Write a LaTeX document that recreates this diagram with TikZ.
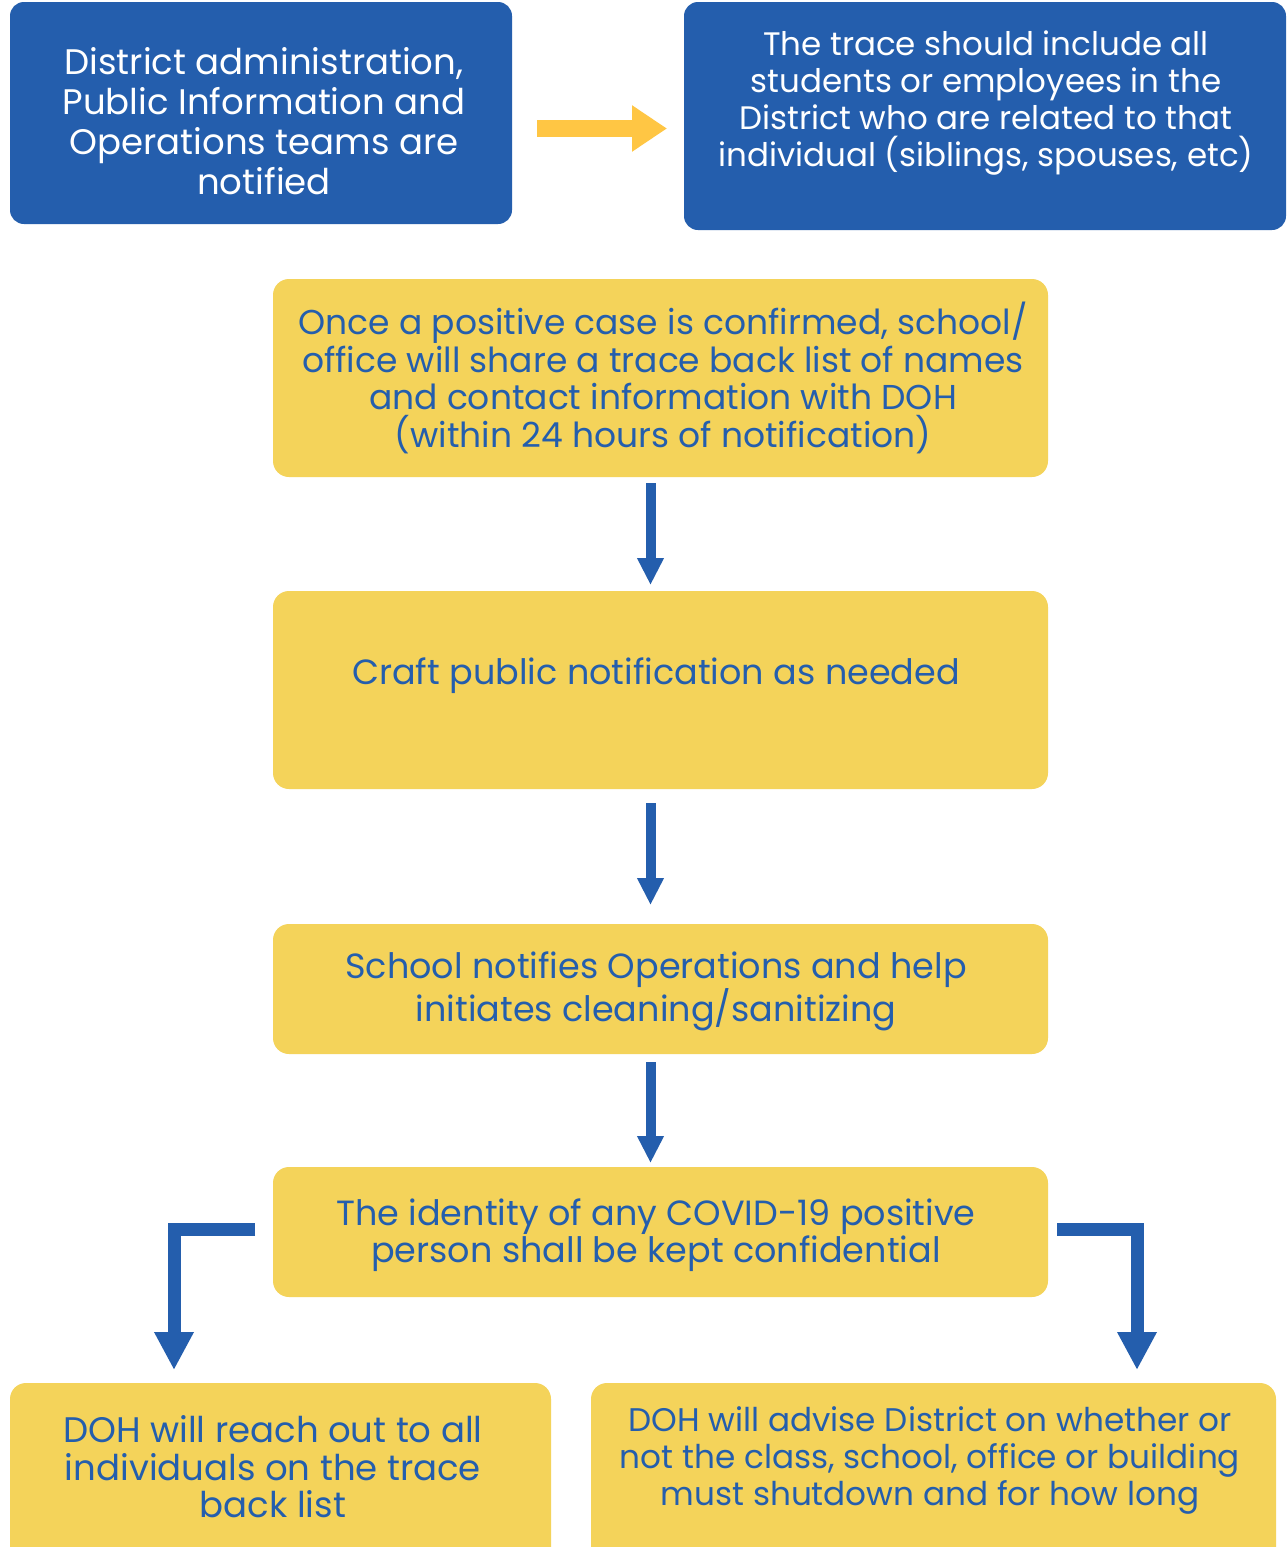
\documentclass[tikz,border=0pt]{standalone}
\usepackage{fontspec}
\setmainfont{Poppins}
\usetikzlibrary{arrows.meta}
\definecolor{dblue}{RGB}{36,94,173}
\definecolor{pyellow}{RGB}{244,211,90}
\definecolor{ayellow}{RGB}{255,198,68}
\newcommand{\fs}[2]{\fontsize{#1}{#2}\selectfont}
\begin{document}
\begin{tikzpicture}[x=1pt,y=-1pt,
  bluebox/.style={fill=dblue, rounded corners=14pt, inner sep=0pt},
  yelbox/.style={fill=pyellow, rounded corners=16pt, inner sep=0pt},
  wtxt/.style={text=white, align=center, inner sep=0pt},
  btxt/.style={text=dblue, align=center, inner sep=0pt},
  downarrow/.style={draw=dblue, line width=10pt, -{Triangle[width=25pt,length=27pt]}},
  elbowarrow/.style={draw=dblue, line width=13pt, line join=miter, -{Triangle[width=37pt,length=38pt]}},
  yarrow/.style={draw=ayellow, line width=17pt, -{Triangle[width=44pt,length=35pt]}}
]
\clip (0,0) rectangle (1286,1547);
\fill[white] (0,0) rectangle (1286,1547);
% boxes
\path[bluebox] (10,2) rectangle (512,224);
\coordinate (Aw) at (512,128.5);
\path[bluebox] (684,2) rectangle (1286,230);
\coordinate (Bw) at (684,128.5);
\path[yelbox] (273,279) rectangle (1048,477);
\coordinate (Cs) at (650.5,477);
\path[yelbox] (273,591) rectangle (1048,789);
\coordinate (Dn) at (650.5,591);
\coordinate (Ds) at (650.5,789);
\path[yelbox] (273,924) rectangle (1048,1054);
\coordinate (En) at (650.5,924);
\coordinate (Es) at (650.5,1054);
\path[yelbox] (273,1167) rectangle (1048,1297);
\coordinate (Fn) at (650.5,1167);
\coordinate (Fw) at (273,1229.5);
\coordinate (Fe) at (1048,1229.5);
\path[yelbox] (10,1383) rectangle (551,1570);
\coordinate (Gn) at (174,1383);
\path[yelbox] (591,1383) rectangle (1276,1570);
\coordinate (Hn) at (1137,1383);
% texts
\node[wtxt, font=\fs{35.5}{40}] (tA) at (264,121) {District administration,\\Public Information and\\Operations teams are\\notified};
\node[wtxt, font=\fs{32.5}{37.3}] (tB) at (986,103) {The trace should include all\\students or employees in the\\District who are related to that\\individual (siblings, spouses, etc)};
\node[btxt, font=\fs{34.5}{37.5}] (tC) at (663,378) {Once a positive case is confirmed, school/\\office will share a trace back list of names\\and contact information with DOH\\(within 24 hours of notification)};
\node[btxt, font=\fs{35}{37.5}] (tD) at (656,676) {Craft public notification as needed};
\node[btxt, font=\fs{35}{37.5}] (tE) at (656,991) {School notifies Operations and help\\initiates cleaning/sanitizing};
\node[btxt, font=\fs{35}{37.5}] (tF) at (656,1235) {The identity of any COVID-19 positive\\person shall be kept confidential};
\node[btxt, font=\fs{35.5}{37.5}] (tG) at (273,1467) {DOH will reach out to all\\individuals on the trace\\back list};
\node[btxt, font=\fs{32.7}{37}] (tH) at (930,1460) {DOH will advise District on whether or\\not the class, school, office or building\\must shutdown and for how long};
% arrows
\draw[yarrow] ([xshift=25]Aw) -- ([xshift=-17]Bw);
\draw[downarrow] ([yshift=-6]Cs) -- ([yshift=6]Dn);
\draw[downarrow] ([yshift=-14]Ds) -- ([yshift=19]En);
\draw[downarrow] ([yshift=-8]Es) -- ([yshift=4]Fn);
\draw[elbowarrow] ([xshift=-18]Fw) -| ([yshift=13]Gn);
\draw[elbowarrow] ([xshift=9]Fe) -| ([yshift=13]Hn);
\end{tikzpicture}
\end{document}
